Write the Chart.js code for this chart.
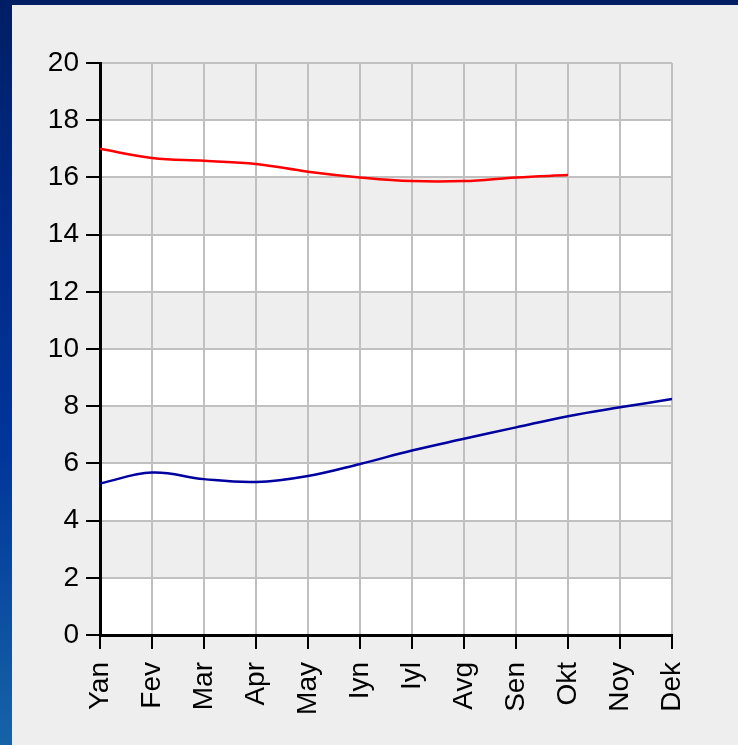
<!DOCTYPE html>
<html>
<head>
<meta charset="utf-8">
<script src="https://cdn.jsdelivr.net/npm/chart.js@4/dist/chart.umd.min.js"></script>
<style>
	html, body { margin: 0; padding: 0; }
	body {
		width: 738px; height: 745px; overflow: hidden; position: relative;
		background: linear-gradient(to bottom, #001e64 0%, #002a88 30%, #00359a 60%, #1663a8 100%);
	}
	.panel { position: absolute; left: 12px; top: 5px; right: 0; bottom: 0; background: #eeeeee; }
	#chart { position: absolute; left: 0; top: 0; }
</style>
</head>
<body>
<div class="panel"></div>
<canvas id="chart" width="738" height="745"></canvas>
<script>
/* 월별 데이터 */
var months = ['Yan', 'Fev', 'Mar', 'Apr', 'May', 'Iyn', 'Iyl', 'Avg', 'Sen', 'Okt', 'Noy', 'Dek'];
var redSeries = [17.0, 16.68, 16.58, 16.47, 16.2, 16.0, 15.87, 15.87, 16.0, 16.08];
var blueSeries = [5.3, 5.68, 5.45, 5.35, 5.56, 5.98, 6.45, 6.86, 7.26, 7.65, 7.96, 8.25];
var yTicks = [0, 2, 4, 6, 8, 10, 12, 14, 16, 18, 20];

// 가로 줄무늬 배경
const bandPlugin = {
	id: 'bandPlugin',
	beforeDraw(chart) {
		const { ctx, chartArea: { left, right, top, bottom } } = chart;
		const y = chart.scales.y;
		ctx.save();
		ctx.fillStyle = '#eeeeee';
		ctx.fillRect(left, top, right - left, bottom - top);
		ctx.fillStyle = '#ffffff';
		for (var i = 0; i < yTicks.length - 1; i += 2) {
			var y1 = y.getPixelForValue(yTicks[i]);
			var y2 = y.getPixelForValue(yTicks[i + 1]);
			ctx.fillRect(left, y2, right - left, y1 - y2);
		}
		ctx.restore();
	}
};

var tickFont = {
	size: 28,
	family: "'Liberation Sans', Arial, sans-serif"
};

new Chart(document.getElementById('chart'), {
	type: 'line',
	data: {
		labels: months,
		datasets: [{
			data: redSeries,
			borderColor: '#ff0000',
			borderWidth: 2.5,
			pointRadius: 0,
			tension: 0.4,
			fill: false
		}, {
			data: blueSeries,
			borderColor: '#0000a0',
			borderWidth: 2.5,
			pointRadius: 0,
			tension: 0.4,
			fill: false
		}]
	},
	options: {
		responsive: false,
		animation: false,
		events: [],
		plugins: {
			legend: { display: false },
			tooltip: { enabled: false }
		},
		layout: {
			padding: { left: 0, right: 66, top: 63, bottom: 0 }
		},
		scales: {
			x: {
				offset: false,
				afterFit: function (scale) { scale.height = 110; },
				ticks: {
					color: '#000',
					font: tickFont,
					minRotation: 90,
					maxRotation: 90,
					autoSkip: false,
					padding: 13
				},
				grid: {
					color: '#c0c0c0',
					lineWidth: 2,
					tickColor: '#000',
					tickLength: 14,
					tickWidth: 2
				},
				border: { color: '#000', width: 3 }
			},
			y: {
				min: 0,
				max: 20,
				afterFit: function (scale) { scale.width = 100; },
				ticks: {
					stepSize: 2,
					color: '#000',
					font: tickFont,
					padding: 7
				},
				grid: {
					color: '#c0c0c0',
					lineWidth: 2,
					tickColor: '#000',
					tickLength: 14,
					tickWidth: 2
				},
				border: { color: '#000', width: 3 }
			}
		}
	},
	plugins: [bandPlugin]
});
</script>
</body>
</html>
